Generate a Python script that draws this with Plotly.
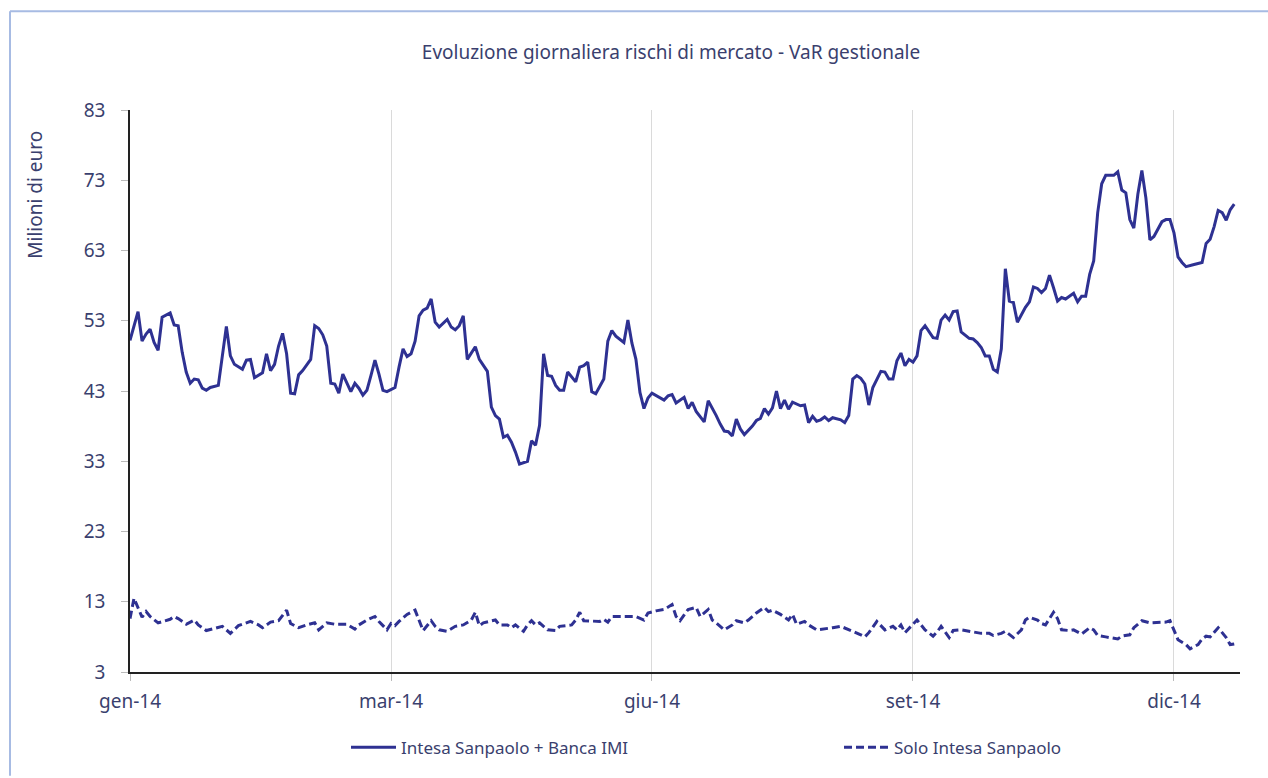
import plotly.graph_objects as go

# Trading-day index (x) and VaR values (millions of euro)
giorno_gruppo = [0, 2, 3, 4, 5, 6, 7, 8, 10, 11, 12, 13, 14, 15, 16, 17, 18, 19, 20, 22,
                 24, 25, 26, 27, 28, 29, 30, 31, 33, 34, 35, 36, 37, 38, 39, 40, 41, 42, 43, 45,
                 46, 47, 48, 49, 50, 51, 52, 53, 55, 56, 57, 58, 59, 60, 61, 62, 63, 64, 66, 67,
                 68, 69, 70, 71, 72, 73, 74, 75, 76, 77, 79, 80, 81, 82, 83, 84, 85, 86, 87, 89,
                 90, 91, 92, 93, 94, 95, 96, 97, 99, 100, 101, 102, 103, 104, 105, 106, 107, 108, 109, 111,
                 112, 113, 114, 115, 116, 117, 118, 119, 120, 121, 123, 124, 125, 126, 127, 128, 129, 130, 131, 133,
                 134, 135, 136, 137, 138, 139, 140, 141, 143, 144, 145, 146, 147, 148, 149, 150, 151, 152, 153, 155,
                 156, 157, 158, 159, 160, 161, 162, 163, 164, 165, 167, 168, 169, 170, 171, 172, 173, 174, 175, 177,
                 178, 179, 180, 181, 182, 183, 184, 185, 187, 188, 189, 190, 191, 192, 193, 194, 195, 196, 197, 198,
                 200, 201, 202, 203, 204, 205, 206, 207, 209, 210, 211, 212, 213, 214, 215, 216, 217, 218, 219, 220,
                 221, 223, 224, 225, 226, 227, 228, 229, 230, 231, 232, 233, 235, 236, 237, 238, 239, 240, 241, 242,
                 243, 245, 246, 247, 248, 249, 250, 251, 252, 253, 254, 255, 257, 258, 259, 260, 261, 262, 263, 264,
                 265, 267, 268, 269, 270, 271, 272, 273, 274, 275]
var_gruppo = [50.2, 54.3, 50.1, 51.1, 51.8, 49.9, 48.8, 53.5, 54.1, 52.4, 52.3, 48.5, 45.7, 44.1, 44.7, 44.6, 43.4, 43.1, 43.5, 43.8,
              52.2, 48.0, 46.8, 46.5, 46.1, 47.4, 47.5, 44.9, 45.6, 48.3, 45.9, 46.8, 49.4, 51.2, 48.3, 42.7, 42.6, 45.3, 45.9, 47.5,
              52.3, 51.9, 51.0, 49.4, 44.1, 44.0, 42.7, 45.4, 42.9, 44.1, 43.4, 42.4, 43.1, 45.2, 47.4, 45.4, 43.1, 42.9, 43.5, 46.4,
              49.0, 47.9, 48.3, 50.1, 53.7, 54.5, 54.8, 56.1, 52.8, 52.1, 53.2, 52.1, 51.7, 52.3, 53.7, 47.5, 48.4, 49.3, 47.5, 45.8,
              40.7, 39.5, 39.0, 36.4, 36.7, 35.7, 34.3, 32.6, 33.0, 35.9, 35.3, 38.1, 48.3, 45.2, 45.1, 43.8, 43.1, 43.1, 45.7, 44.3,
              46.4, 46.6, 47.1, 42.9, 42.6, 43.7, 44.7, 50.1, 51.6, 50.8, 49.9, 53.1, 49.8, 47.5, 42.8, 40.5, 42.0, 42.7, 42.4, 41.7,
              42.3, 42.5, 41.3, 41.7, 42.1, 40.5, 41.4, 40.1, 38.6, 41.6, 40.6, 39.5, 38.3, 37.3, 37.2, 36.6, 39.0, 37.6, 36.8, 38.0,
              38.8, 39.1, 40.5, 39.7, 40.6, 43.0, 40.5, 41.7, 40.4, 41.4, 40.9, 41.0, 38.5, 39.4, 38.7, 38.9, 39.3, 38.8, 39.2, 38.9,
              38.5, 39.5, 44.7, 45.2, 44.8, 44.0, 41.0, 43.5, 45.8, 45.7, 44.7, 44.7, 47.3, 48.4, 46.6, 47.5, 47.1, 48.0, 51.6, 52.3,
              50.6, 50.5, 53.1, 53.8, 53.1, 54.3, 54.4, 51.4, 50.5, 50.4, 49.9, 49.2, 48.0, 48.0, 46.1, 45.7, 49.0, 60.4, 55.8, 55.6,
              52.8, 54.9, 55.7, 57.8, 57.6, 57.0, 57.6, 59.5, 57.7, 55.8, 56.3, 56.1, 56.9, 55.7, 56.5, 56.5, 59.6, 61.5, 68.4, 72.5,
              73.7, 73.7, 74.2, 71.6, 71.2, 67.4, 66.2, 71.0, 74.4, 70.5, 64.5, 65.0, 67.1, 67.4, 67.4, 65.5, 62.1, 61.3, 60.7, 60.8,
              61.0, 61.3, 64.0, 64.6, 66.4, 68.7, 68.4, 67.3, 68.8, 69.6]

giorno_isp = [0, 1, 3, 4, 5, 7, 10, 11, 12, 14, 16, 17, 19, 21, 23, 25, 27, 30, 32, 33,
              35, 37, 39, 40, 42, 44, 46, 47, 49, 51, 54, 56, 57, 59, 61, 62, 64, 65, 66, 67,
              69, 71, 72, 73, 75, 76, 77, 79, 81, 83, 85, 86, 87, 88, 91, 92, 94, 95, 96, 98,
              99, 100, 101, 102, 104, 106, 107, 110, 111, 112, 113, 115, 117, 118, 119, 120, 122, 124, 126, 128,
              129, 131, 133, 135, 136, 137, 138, 139, 141, 142, 144, 145, 146, 148, 150, 151, 153, 154, 156, 158,
              159, 160, 162, 164, 165, 166, 168, 169, 171, 173, 175, 177, 178, 180, 182, 183, 184, 186, 188, 190,
              191, 192, 193, 195, 196, 198, 200, 201, 202, 204, 205, 207, 210, 212, 214, 215, 217, 218, 220, 222,
              223, 224, 226, 227, 228, 230, 231, 232, 234, 235, 237, 239, 240, 241, 243, 246, 247, 249, 250, 252,
              254, 256, 258, 259, 260, 261, 263, 264, 266, 267, 268, 269, 271, 273, 274, 275]
var_isp = [10.6, 13.5, 10.8, 11.6, 10.9, 10.0, 10.5, 10.9, 10.6, 9.8, 10.4, 9.7, 8.9, 9.2, 9.5, 8.5, 9.6, 10.2, 9.7, 9.3,
           10.1, 10.3, 11.8, 9.9, 9.3, 9.7, 10.0, 9.0, 10.0, 9.8, 9.8, 9.1, 9.7, 10.4, 10.9, 10.2, 9.0, 9.9, 9.6, 10.2,
           11.2, 11.8, 10.2, 8.9, 10.3, 9.5, 9.0, 8.8, 9.5, 9.7, 10.4, 11.5, 9.6, 10.0, 10.4, 9.7, 9.7, 9.3, 9.7, 8.8,
           9.7, 10.3, 9.7, 10.0, 9.0, 8.9, 9.5, 9.7, 10.4, 11.5, 10.3, 10.2, 10.2, 10.5, 10.1, 10.9, 10.9, 11.0, 10.9, 10.4,
           11.4, 11.7, 11.9, 12.6, 10.9, 10.3, 11.2, 11.9, 12.2, 10.9, 11.9, 10.4, 10.0, 9.0, 9.7, 10.3, 10.0, 10.4, 11.4, 12.2,
           11.6, 11.8, 11.2, 10.4, 11.2, 9.8, 10.2, 9.7, 9.0, 9.1, 9.3, 9.5, 9.3, 8.8, 8.3, 8.0, 8.6, 10.2, 9.0, 9.5,
           9.0, 9.7, 8.6, 9.7, 10.4, 9.0, 8.1, 8.7, 9.5, 7.9, 8.9, 9.0, 8.7, 8.5, 8.5, 8.2, 8.5, 8.8, 7.9, 9.0,
           10.4, 10.8, 10.4, 9.9, 9.7, 11.5, 10.6, 9.0, 8.9, 9.0, 8.4, 9.3, 9.0, 8.2, 8.0, 7.7, 8.1, 8.3, 9.3, 10.3,
           10.0, 10.1, 10.1, 10.3, 8.8, 7.6, 6.9, 6.3, 6.9, 7.7, 8.1, 8.0, 9.3, 7.9, 6.9, 7.0]

tick_pos = [0, 65, 130, 195, 260]
tick_lab = ["gen-14", "mar-14", "giu-14", "set-14", "dic-14"]
y_ticks = [3, 13, 23, 33, 43, 53, 63, 73, 83]

NAVY = "#2E3192"
TXT = "#3A3F6E"
FONT = "Noto Sans"

fig = go.Figure()
fig.add_trace(go.Scatter(x=giorno_gruppo, y=var_gruppo, mode="lines",
                         name="Intesa Sanpaolo + Banca IMI", legend="legend", showlegend=True,
                         line=dict(color=NAVY, width=3)))
fig.add_trace(go.Scatter(x=giorno_isp, y=var_isp, mode="lines",
                         name="Solo Intesa Sanpaolo", legend="legend2", showlegend=True,
                         line=dict(color=NAVY, width=3, dash="8px,4px")))

L, R, T, B = 130, 28, 110, 104
W, H = 1268, 778
pw, ph = W - L - R, H - T - B

def px_x(v):
    return (v - L) / pw

def px_y(v):
    return (H - B - v) / ph

leg_common = dict(orientation="h", xanchor="left", yanchor="middle",
                  font=dict(size=17, color=TXT, family=FONT),
                  bgcolor="rgba(0,0,0,0)", itemwidth=45, visible=True)

fig.update_layout(
    width=W, height=H, autosize=False, showlegend=True,
    margin=dict(l=L, r=R, t=T, b=B, pad=0),
    paper_bgcolor="white", plot_bgcolor="white",
    font=dict(family=FONT, color=TXT, size=18),
    title=dict(text="Evoluzione giornaliera rischi di mercato - VaR gestionale",
               x=px_x(671), xanchor="center", xref="paper", y=1 - 52 / H, yanchor="middle",
               font=dict(size=19, color=TXT, family=FONT)),
    xaxis=dict(range=[0, 276.44], tickmode="array", tickvals=tick_pos, ticktext=tick_lab,
               showgrid=True, gridcolor="#DADADA", gridwidth=1, zeroline=False,
               showline=True, linecolor="#222222", linewidth=1.5,
               ticks="outside", ticklen=7, tickcolor="#BBBBBB", tickwidth=1,
               ticklabelstandoff=4,
               tickfont=dict(size=19, color=TXT)),
    yaxis=dict(range=[3, 83], tickmode="array", tickvals=y_ticks,
               showgrid=False, zeroline=False,
               showline=True, linecolor="#222222", linewidth=1.5,
               ticks="outside", ticklen=7, tickcolor="#BBBBBB", tickwidth=1,
               ticklabelstandoff=12,
               tickfont=dict(size=19, color=TXT)),
    legend=dict(x=px_x(346), y=px_y(750), **leg_common),
    legend2=dict(x=px_x(839), y=px_y(750), **leg_common),
    annotations=[
        dict(text="Milioni di euro", xref="paper", yref="paper", x=px_x(35), y=px_y(195),
             xanchor="center", yanchor="middle", textangle=-90, showarrow=False,
             font=dict(size=19, color=TXT, family=FONT)),
    ],
    shapes=[
        dict(type="line", xref="paper", yref="paper", x0=px_x(10), x1=px_x(1268), y0=px_y(11), y1=px_y(11),
             line=dict(color="#A7BBE3", width=2)),
        dict(type="line", xref="paper", yref="paper", x0=px_x(10), x1=px_x(10), y0=px_y(11), y1=px_y(778),
             line=dict(color="#A7BBE3", width=2)),
    ],
)

fig.write_html("out.html", config={"displayModeBar": False},
               post_script="document.body.style.margin='0';")
